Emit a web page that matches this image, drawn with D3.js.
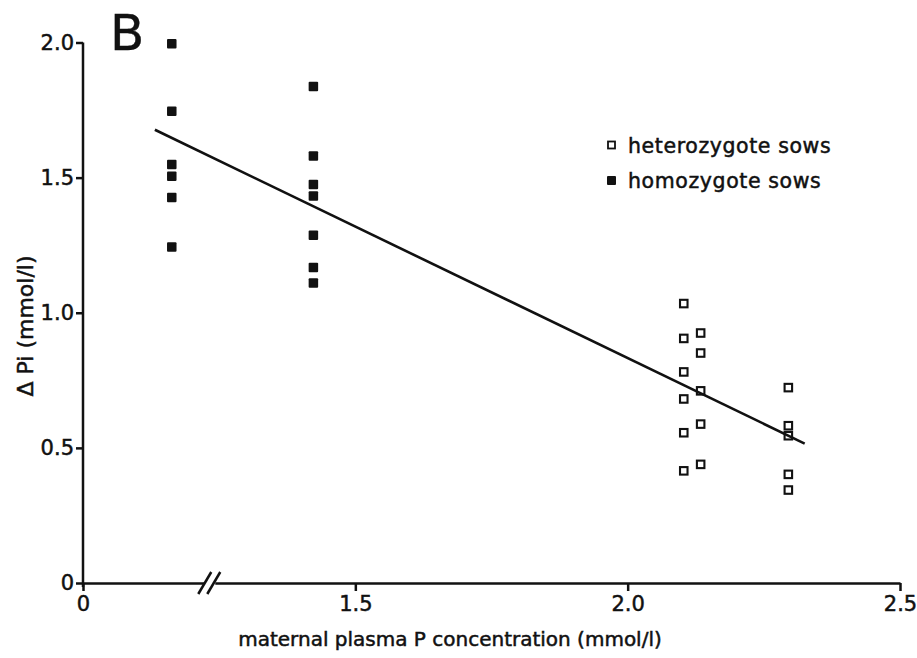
<!DOCTYPE html>
<html><head><meta charset="utf-8">
<script src="https://cdn.jsdelivr.net/npm/d3@7"></script>
<style>
html,body{margin:0;padding:0;background:#fff;}
svg{display:block;font-family:"DejaVu Sans",sans-serif;}
</style></head>
<body>
<script>
// ---- data ----
const homoX = [1.163,1.163,1.163,1.163,1.163,1.163, 1.423,1.423,1.423,1.423,1.423,1.423,1.423];
const homoY = [1.995,1.746,1.549,1.505,1.426,1.243, 1.837,1.580,1.475,1.432,1.287,1.167,1.110];
const heteroX = [2.103,2.103,2.103,2.103,2.103,2.103, 2.134,2.134,2.134,2.134,2.134, 2.295,2.295,2.295,2.295,2.295];
const heteroY = [1.034,0.905,0.781,0.681,0.556,0.415, 0.925,0.851,0.711,0.588,0.439, 0.723,0.582,0.545,0.402,0.344];
const lineX = [1.132, 2.325];
const lineY = [1.677, 0.516];
const xTicks = [1.0, 1.5, 2.0, 2.5];
const xTickLabels = ["0", "1.5", "2.0", "2.5"];
const yTicks = [0, 0.5, 1.0, 1.5, 2.0];
const yTickLabels = ["0", "0.5", "1.0", "1.5", "2.0"];
const legendLabels = ["heterozygote sows", "homozygote sows"];
const xBreak = 1.23;

const W = 917, H = 658;
const svg = d3.select("body").append("svg").attr("width", W).attr("height", H);

const x = d3.scaleLinear().domain([1.0, 2.5]).range([83, 900]);
const y = d3.scaleLinear().domain([0, 2.0]).range([583, 42.5]);

const bold = sel => sel.attr("stroke", "#111").attr("stroke-width", 0.5);

// axes
const xAxis = d3.axisBottom(x).tickValues(xTicks)
  .tickFormat((d, i) => xTickLabels[i]).tickSizeInner(8).tickSizeOuter(0).tickPadding(5);
const yAxis = d3.axisLeft(y).tickValues(yTicks)
  .tickFormat((d, i) => yTickLabels[i]).tickSizeInner(7).tickSizeOuter(0).tickPadding(2);

const gx = svg.append("g").attr("transform", `translate(0,${y(0)})`).call(xAxis);
const gy = svg.append("g").attr("transform", `translate(${x(1.0)},0)`).call(yAxis);
[gx, gy].forEach(g => {
  g.selectAll("path,line").attr("stroke", "#111").attr("stroke-width", 2.5);
  g.selectAll("text").attr("fill", "#111").attr("font-size", 21).attr("font-family", "DejaVu Sans").call(bold);
});
gy.select(".domain").attr("d", `M0,${y(0)+4}V${y(2.0)}`);

// axis break
const bx = x(xBreak), by = y(0);
svg.append("rect").attr("x", bx - 4).attr("y", by - 3).attr("width", 11).attr("height", 6).attr("fill", "#fff");
[-4, 5].forEach(o => {
  svg.append("line").attr("x1", bx + o - 6).attr("y1", by + 11).attr("x2", bx + o + 7).attr("y2", by - 11)
    .attr("stroke", "#111").attr("stroke-width", 2.5);
});

// regression line
svg.append("path").datum(d3.range(lineX.length))
  .attr("d", d3.line().x(i => x(lineX[i])).y(i => y(lineY[i])))
  .attr("fill", "none").attr("stroke", "#111").attr("stroke-width", 2.6);

// points
const s = 9.5;
svg.append("g").selectAll("rect").data(d3.range(homoX.length)).join("rect")
  .attr("x", i => x(homoX[i]) - s / 2).attr("y", i => y(homoY[i]) - s / 2)
  .attr("width", s).attr("height", s).attr("rx", 1).attr("fill", "#111");
const so = 7.5;
svg.append("g").selectAll("rect").data(d3.range(heteroX.length)).join("rect")
  .attr("x", i => x(heteroX[i]) - so / 2).attr("y", i => y(heteroY[i]) - so / 2)
  .attr("width", so).attr("height", so).attr("fill", "none").attr("stroke", "#111").attr("stroke-width", 2.1);

// legend
const lg = svg.append("g");
lg.append("rect").attr("x", 608).attr("y", 141.5).attr("width", 7).attr("height", 7)
  .attr("fill", "none").attr("stroke", "#111").attr("stroke-width", 1.8);
lg.append("rect").attr("x", 607).attr("y", 176).attr("width", 9).attr("height", 9).attr("rx", 1).attr("fill", "#111");
legendLabels.forEach((t, i) => {
  lg.append("text").attr("x", 628).attr("y", 153 + i * 35).attr("font-size", 20.5)
    .attr("letter-spacing", 0.6).attr("fill", "#111").text(t).call(bold);
});

// panel letter
svg.append("text").attr("x", 110).attr("y", 50).attr("font-size", 50).attr("fill", "#111")
  .attr("stroke", "#111").attr("stroke-width", 0.4).text("B");

// axis titles
svg.append("text").attr("x", 450).attr("y", 646).attr("text-anchor", "middle")
  .attr("font-size", 20).attr("fill", "#111").text("maternal plasma P concentration (mmol/l)").call(bold);
svg.append("text").attr("transform", `translate(33,326) rotate(-90)`).attr("text-anchor", "middle")
  .attr("font-size", 22).attr("fill", "#111").text("Δ Pi (mmol/l)").call(bold);
</script>
</body></html>
